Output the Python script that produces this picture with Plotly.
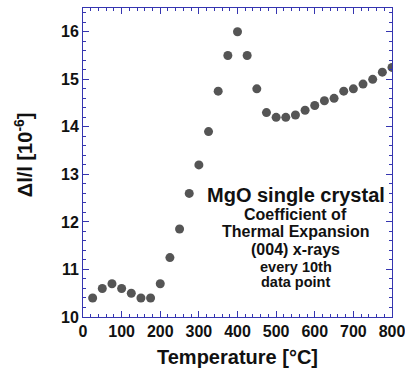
import plotly.graph_objects as go

temperature = [25, 50, 75, 100, 125, 150, 175, 200, 225, 250, 275, 300, 325, 350, 375, 400,
               425, 450, 475, 500, 525, 550, 575, 600, 625, 650, 675, 700, 725, 750, 775, 800]
dl_over_l = [10.4, 10.6, 10.7, 10.6, 10.5, 10.4, 10.4, 10.7, 11.25, 11.85, 12.6, 13.2, 13.9, 14.75, 15.5, 16.0,
             15.5, 14.8, 14.3, 14.2, 14.2, 14.25, 14.35, 14.45, 14.55, 14.6, 14.75, 14.8, 14.9, 15.0, 15.15, 15.25]

x_ticks = [0, 100, 200, 300, 400, 500, 600, 700, 800]
y_ticks = [10, 11, 12, 13, 14, 15, 16]

note_lines = ["MgO single crystal", "Coefficient of", "Thermal Expansion",
              "(004) x-rays", "every 10th", "data point"]
note_sizes = [20, 16, 16, 16, 14.5, 14.5]
note_y = [12.57, 12.15, 11.80, 11.43, 11.06, 10.74]
note_x = 551

x_title = "Temperature [°C]"
y_title = "Δl/l [10<sup>-6</sup>]"

FONT = "Liberation Sans, Arial, Helvetica, sans-serif"
AXIS_COLOR = "#3535b0"
TEXT_COLOR = "#111111"

fig = go.Figure()
fig.add_trace(go.Scatter(
    x=temperature, y=dl_over_l, mode="markers",
    marker=dict(size=9, color="#555555", line=dict(width=0)),
    showlegend=False, hoverinfo="skip"))

for txt, sz, yy in zip(note_lines, note_sizes, note_y):
    fig.add_annotation(x=note_x, y=yy, xref="x", yref="y", text="<b>" + txt + "</b>",
                       showarrow=False, xanchor="center", yanchor="middle",
                       font=dict(family=FONT, size=sz, color=TEXT_COLOR))

# axis titles as annotations for precise placement
fig.add_annotation(x=0.5016, y=-0.129, xref="paper", yref="paper", text="<b>" + x_title + "</b>",
                   showarrow=False, xanchor="center", yanchor="middle",
                   font=dict(family=FONT, size=20, color=TEXT_COLOR))
fig.add_annotation(x=-0.194, y=0.524, xref="paper", yref="paper", text="<b>" + y_title + "</b>",
                   showarrow=False, xanchor="center", yanchor="middle", textangle=-90,
                   font=dict(family=FONT, size=20, color=TEXT_COLOR))

axis_common = dict(
    showline=True, linecolor=AXIS_COLOR, linewidth=1, mirror="allticks",
    ticks="inside", ticklen=6, tickcolor=AXIS_COLOR, tickwidth=1,
    showgrid=False, zeroline=False, automargin=False,
    tickfont=dict(family=FONT, size=16, color=TEXT_COLOR),
)

fig.update_xaxes(
    range=[0, 800], tickvals=x_ticks, ticktext=["<b>%d</b>" % v for v in x_ticks],
    minor=dict(ticks="inside", dtick=20, ticklen=3, tickcolor=AXIS_COLOR, showgrid=False),
    ticklabeloverflow="allow",
    **axis_common)
fig.update_yaxes(
    range=[10, 16.5], tickvals=y_ticks, ticktext=["<b>%d</b>" % v for v in y_ticks],
    minor=dict(ticks="inside", dtick=0.2, ticklen=3, tickcolor=AXIS_COLOR, showgrid=False),
    **axis_common)

fig.update_layout(
    width=405, height=374,
    margin=dict(l=83, r=13, t=8, b=57),
    paper_bgcolor="white", plot_bgcolor="white",
    font=dict(family=FONT),
)

fig.write_html("out.html", config={"displayModeBar": False},
               post_script="document.body.style.margin='0';document.body.style.overflow='hidden';")
